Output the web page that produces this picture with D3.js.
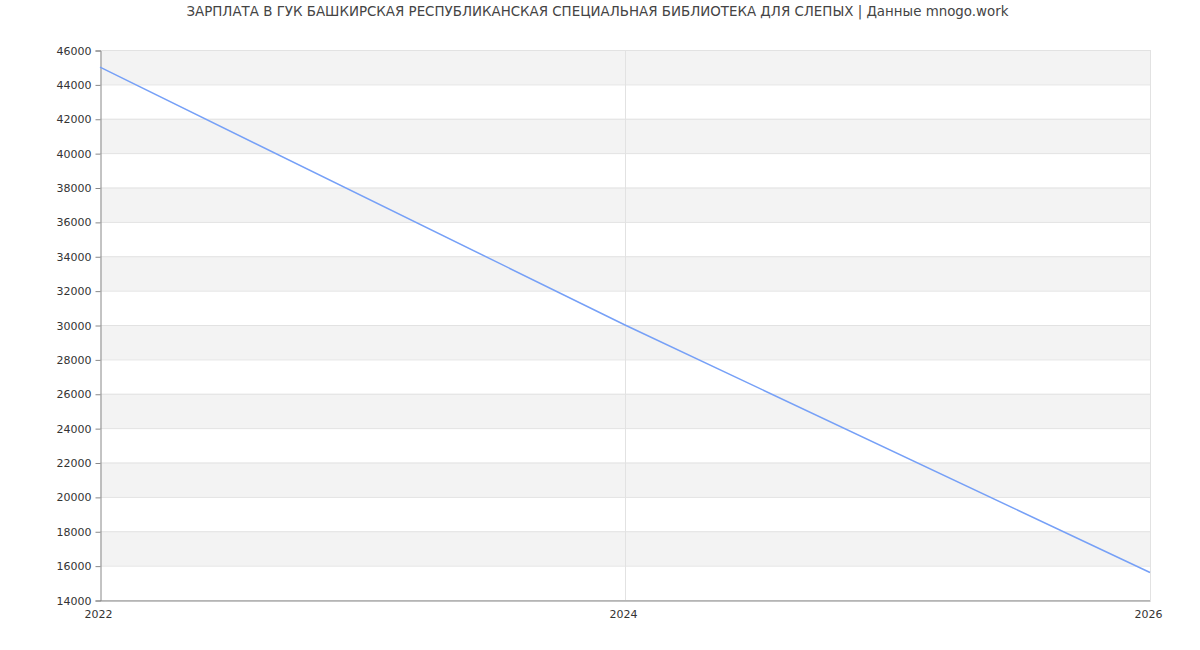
<!DOCTYPE html>
<html>
<head>
<meta charset="utf-8">
<script src="https://cdnjs.cloudflare.com/ajax/libs/d3/7.8.5/d3.min.js"></script>
<style>
  body { margin: 0; background: #fff; }
  text { font-family: "DejaVu Sans", sans-serif; }
</style>
</head>
<body>
<script>
const WIDTH = 1200;
const HEIGHT = 650;
const MARGIN = { top: 50, right: 50, bottom: 50, left: 100 };

const title = 'ЗАРПЛАТА В ГУК БАШКИРСКАЯ РЕСПУБЛИКАНСКАЯ СПЕЦИАЛЬНАЯ БИБЛИОТЕКА ДЛЯ СЛЕПЫХ | Данные mnogo.work';

// data
const years = [2022, 2024, 2026];
const salary = [45000, 30000, 15600];
const xTicks = [2022, 2024, 2026];
const yTicks = d3.range(14000, 46001, 2000);

const svg = d3.select('body')
    .append('svg')
    .attr('width', WIDTH)
    .attr('height', HEIGHT);

const x = d3.scaleLinear()
    .domain([2022, 2026])
    .range([MARGIN.left, WIDTH - MARGIN.right]);

const y = d3.scaleLinear()
    .domain([14000, 46000])
    .range([HEIGHT - MARGIN.bottom, MARGIN.top]);

// alternating bands
const bands = yTicks.slice(0, -1).map((v, i) => ({ lo: v, hi: yTicks[i + 1], i }));
svg.append('g')
    .selectAll('rect')
    .data(bands.filter(d => d.i % 2 === 1))
    .join('rect')
    .attr('x', x(2022))
    .attr('width', x(2026) - x(2022))
    .attr('y', d => y(d.hi))
    .attr('height', d => y(d.lo) - y(d.hi))
    .attr('fill', '#f3f3f3');

// horizontal grid
svg.append('g')
    .selectAll('line')
    .data(yTicks)
    .join('line')
    .attr('x1', x(2022))
    .attr('x2', x(2026))
    .attr('y1', d => y(d) + 0.5)
    .attr('y2', d => y(d) + 0.5)
    .attr('stroke', '#e2e2e2');

// vertical grid
svg.append('g')
    .selectAll('line')
    .data(xTicks.slice(1))
    .join('line')
    .attr('x1', d => x(d) + 0.5)
    .attr('x2', d => x(d) + 0.5)
    .attr('y1', y(46000))
    .attr('y2', y(14000))
    .attr('stroke', '#e2e2e2');

// y axis
const yAxis = svg.append('g')
    .attr('transform', `translate(${MARGIN.left + 0.5}, 0.5)`)
    .call(d3.axisLeft(y).tickValues(yTicks).tickSize(5).tickPadding(4).tickFormat(d3.format('d')));
yAxis.select('.domain').attr('stroke', '#888');
yAxis.selectAll('.tick line').attr('stroke', '#888');
yAxis.selectAll('.tick text')
    .attr('fill', '#333')
    .style('font-size', '11px')
    .style('font-family', '"DejaVu Sans", sans-serif');

// x axis
const xAxis = svg.append('g')
    .attr('transform', `translate(0, ${HEIGHT - MARGIN.bottom + 0.5})`)
    .call(d3.axisBottom(x).tickValues(xTicks).tickSize(0).tickPadding(10).tickFormat(d3.format('d')));
xAxis.select('.domain').attr('stroke', '#888');
xAxis.selectAll('.tick text')
    .attr('fill', '#333')
    .attr('dx', -2)
    .style('font-size', '11px')
    .style('font-family', '"DejaVu Sans", sans-serif');

// line
const line = d3.line()
    .x((d, i) => x(years[i]))
    .y(d => y(d));

svg.append('path')
    .datum(salary)
    .attr('d', line)
    .attr('fill', 'none')
    .attr('stroke', '#76a0f7')
    .attr('stroke-width', 1.5);

// title
svg.append('text')
    .attr('x', 597.5)
    .attr('y', 16)
    .attr('text-anchor', 'middle')
    .attr('fill', '#444')
    .style('font-size', '13.4px')
    .text(title);
</script>
</body>
</html>
